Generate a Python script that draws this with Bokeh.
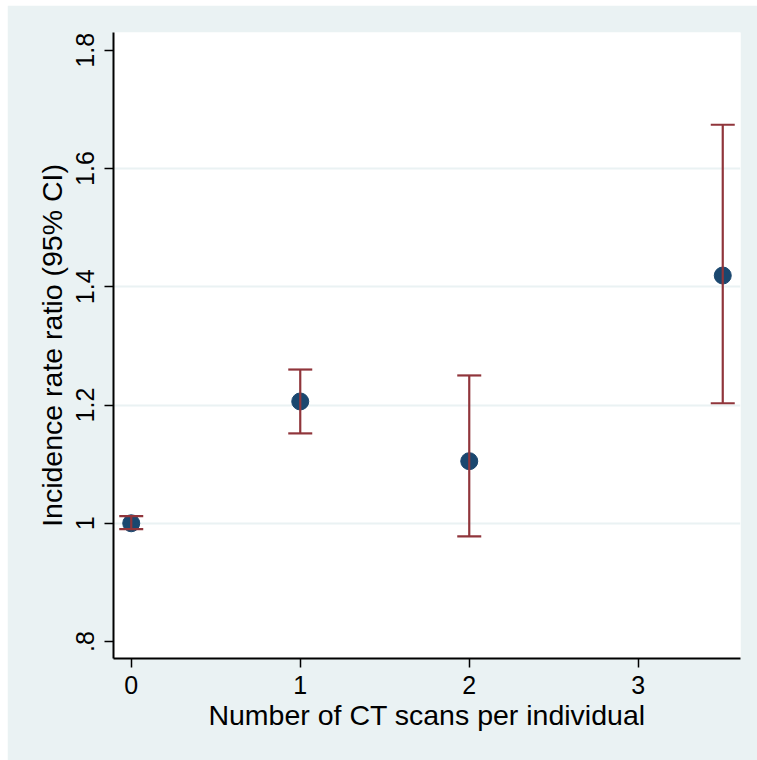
from bokeh.plotting import figure
from bokeh.models import FixedTicker, Range1d
from bokeh.embed import file_html
from bokeh.resources import INLINE

# data
scans = [0, 1, 2, 3.5]
irr = [1.0, 1.206, 1.105, 1.419]
ci_low = [0.99, 1.152, 0.978, 1.203]
ci_high = [1.012, 1.260, 1.250, 1.674]
x_ticks = [0, 1, 2, 3]
y_ticks = [0.8, 1.0, 1.2, 1.4, 1.6, 1.8]
y_tick_labels = {0.8: ".8", 1.0: "1", 1.2: "1.2", 1.4: "1.4", 1.6: "1.6", 1.8: "1.8"}

BG = "#EAF2F3"
FONT = "Liberation Sans"

p = figure(width=750, height=755, output_backend="svg", toolbar_location=None,
           x_range=Range1d(-0.105, 3.605), y_range=Range1d(0.7713, 1.830),
           min_border_left=106, min_border_top=27, min_border_right=17, min_border_bottom=102)
p.margin = (5, 0, 0, 7)
p.border_fill_color = BG
p.background_fill_color = "white"
p.outline_line_color = None

p.xgrid.grid_line_color = None
p.ygrid.grid_line_color = BG
p.ygrid.grid_line_width = 2
p.ygrid.ticker = FixedTicker(ticks=[1.0, 1.2, 1.4, 1.6])

p.xaxis.ticker = FixedTicker(ticks=x_ticks)
p.yaxis.ticker = FixedTicker(ticks=y_ticks)
p.yaxis.major_label_overrides = y_tick_labels
p.yaxis.major_label_orientation = "vertical"

for ax in (p.xaxis[0], p.yaxis[0]):
    ax.axis_line_color = "black"
    ax.axis_line_width = 2
    ax.major_tick_line_color = "black"
    ax.major_tick_line_width = 1.5
    ax.major_tick_out = 9
    ax.major_tick_in = 0
    ax.minor_tick_line_color = None
    ax.major_label_text_font = FONT
    ax.major_label_text_font_size = "25px"
    ax.major_label_text_color = "black"
    ax.axis_label_text_font = FONT
    ax.axis_label_text_font_size = "28.5px"
    ax.axis_label_text_font_style = "normal"
    ax.axis_label_text_color = "black"

p.xaxis.axis_label = "Number of CT scans per individual"
p.yaxis.axis_label = "Incidence rate ratio (95% CI)"
p.xaxis.major_label_standoff = 8
p.yaxis.major_label_standoff = 10
p.xaxis.axis_label_standoff = 2
p.yaxis.axis_label_standoff = 6

p.scatter(scans, irr, size=17, fill_color="#1A476F", line_color="#1A476F")
p.segment(x0=scans, y0=ci_low, x1=scans, y1=ci_high, line_color="#90353B", line_width=2.2)
p.scatter(scans, ci_low, marker="dash", size=24, line_color="#90353B", line_width=2.2)
p.scatter(scans, ci_high, marker="dash", size=24, line_color="#90353B", line_width=2.2)

open("out.html", "w").write(file_html(p, INLINE))
